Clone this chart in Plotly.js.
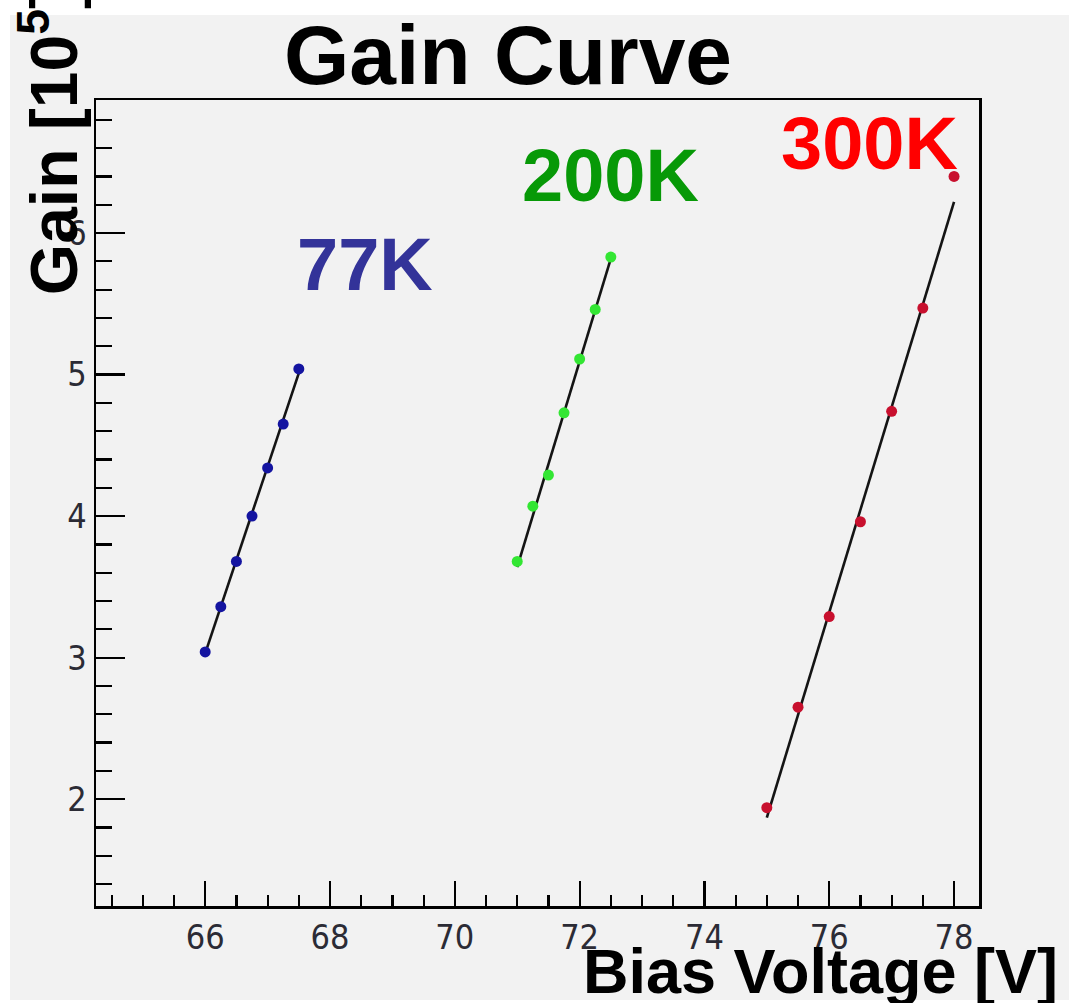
<!DOCTYPE html>
<html>
<head>
<meta charset="utf-8">
<script src="https://cdn.plot.ly/plotly-3.0.1.min.js"></script>
<style>
  html, body { margin: 0; padding: 0; background: #ffffff; }
  #chart { width: 1069px; height: 1003px; }
</style>
</head>
<body>
<div id="chart"></div>
<script>
// Bias voltage [V] and measured gain [10^5] for three temperatures
const volt77K  = [66, 66.25, 66.5, 66.75, 67, 67.25, 67.5];
const gain77K  = [3.04, 3.36, 3.68, 4.00, 4.34, 4.65, 5.04];

const volt200K = [71, 71.25, 71.5, 71.75, 72, 72.25, 72.5];
const gain200K = [3.68, 4.07, 4.29, 4.73, 5.11, 5.46, 5.83];

const volt300K = [75, 75.5, 76, 76.5, 77, 77.5, 78];
const gain300K = [1.94, 2.65, 3.29, 3.96, 4.74, 5.47, 6.40];

// Linear fit lines (end points over each voltage range)
const fitVolt77K  = [66, 67.5];
const fitGain77K  = [3.03, 5.01];
const fitVolt200K = [71, 72.5];
const fitGain200K = [3.64, 5.82];
const fitVolt300K = [75, 78];
const fitGain300K = [1.87, 6.22];

// Temperature labels
const tempLabels = ['77K', '200K', '300K'];
const tempLabelX = [68.56, 72.50, 76.64];
const tempLabelY = [5.78, 6.41, 6.63];
const tempColors = ['#333399', '#079907', '#ff0000'];

const xTitle = 'Bias Voltage [V]';
const yTitle = 'Gain [10<sup>5</sup>]';
const chartTitle = 'Gain Curve';

const markerColors = ['#1414a0', '#33e633', '#c8102e'];
const boldFont = 'Liberation Sans, Arial, Helvetica, sans-serif';
const tickFont = 'Liberation Sans Narrow, DejaVu Sans Condensed, Arial Narrow, sans-serif';

function pointsTrace(x, y, color) {
  return { x: x, y: y, type: 'scatter', mode: 'markers',
           marker: { color: color, size: 11 }, hoverinfo: 'skip' };
}
function fitTrace(x, y) {
  return { x: x, y: y, type: 'scatter', mode: 'lines',
           line: { color: '#141414', width: 2.6 }, hoverinfo: 'skip' };
}

const data = [
  fitTrace(fitVolt77K, fitGain77K),
  fitTrace(fitVolt200K, fitGain200K),
  fitTrace(fitVolt300K, fitGain300K),
  pointsTrace(volt77K, gain77K, markerColors[0]),
  pointsTrace(volt200K, gain200K, markerColors[1]),
  pointsTrace(volt300K, gain300K, markerColors[2])
];

const annotations = tempLabels.map((t, i) => ({
  text: '<b>' + t + '</b>', x: tempLabelX[i], y: tempLabelY[i],
  xref: 'x', yref: 'y', showarrow: false, xanchor: 'center', yanchor: 'middle',
  font: { family: boldFont, size: 74, color: tempColors[i] }
}));

// Axis titles, ROOT style: right / top aligned
annotations.push({
  text: '<b>' + xTitle + '</b>', xref: 'paper', yref: 'paper',
  x: 1.0917, y: -0.0806, xanchor: 'right', yanchor: 'middle', showarrow: false,
  font: { family: boldFont, size: 63, color: '#000000' }
});
annotations.push({
  text: '<b>' + yTitle + '</b>', xref: 'paper', yref: 'paper', textangle: -90,
  x: -0.053, y: 0.7556, xanchor: 'center', yanchor: 'bottom', showarrow: false,
  font: { family: boldFont, size: 66, color: '#000000' }
});

const layout = {
  width: 1069, height: 1003,
  margin: { l: 96, r: 90, t: 100, b: 97, pad: 0 },
  paper_bgcolor: '#ffffff',
  plot_bgcolor: '#f2f2f2',
  showlegend: false,
  hovermode: false,
  title: {
    text: '<b>' + chartTitle + '</b>',
    font: { family: boldFont, size: 84, color: '#000000' },
    xref: 'paper', x: 0.4666, xanchor: 'center',
    yref: 'container', y: 0.975, yanchor: 'top'
  },
  shapes: [{
    type: 'rect', xref: 'paper', yref: 'paper', layer: 'below',
    x0: -0.0974, x1: 1.102, y0: -0.1166, y1: 1.1055,
    fillcolor: '#f2f2f2', line: { width: 0 }
  }],
  xaxis: {
    range: [64.25, 78.4], tick0: 64, dtick: 2,
    ticks: 'inside', ticklen: 25, tickwidth: 2.2, tickcolor: '#000000',
    minor: { dtick: 0.5, ticks: 'inside', ticklen: 11, tickwidth: 2.2, tickcolor: '#000000' },
    showline: true, mirror: true, linewidth: 2.5, linecolor: '#000000',
    showgrid: false, zeroline: false,
    ticklabelstandoff: 0,
    tickfont: { family: tickFont, size: 34, color: '#2b2b35' }
  },
  yaxis: {
    range: [1.245, 6.94], tick0: 0, dtick: 1,
    ticks: 'inside', ticklen: 29, tickwidth: 2.2, tickcolor: '#000000',
    minor: { dtick: 0.2, ticks: 'inside', ticklen: 16, tickwidth: 2.2, tickcolor: '#000000' },
    showline: true, mirror: true, linewidth: 2.5, linecolor: '#000000',
    showgrid: false, zeroline: false,
    ticklabelstandoff: 0,
    tickfont: { family: tickFont, size: 34, color: '#2b2b35' }
  },
  annotations: annotations
};

Plotly.newPlot('chart', data, layout, { staticPlot: true, displayModeBar: false });
</script>
</body>
</html>
